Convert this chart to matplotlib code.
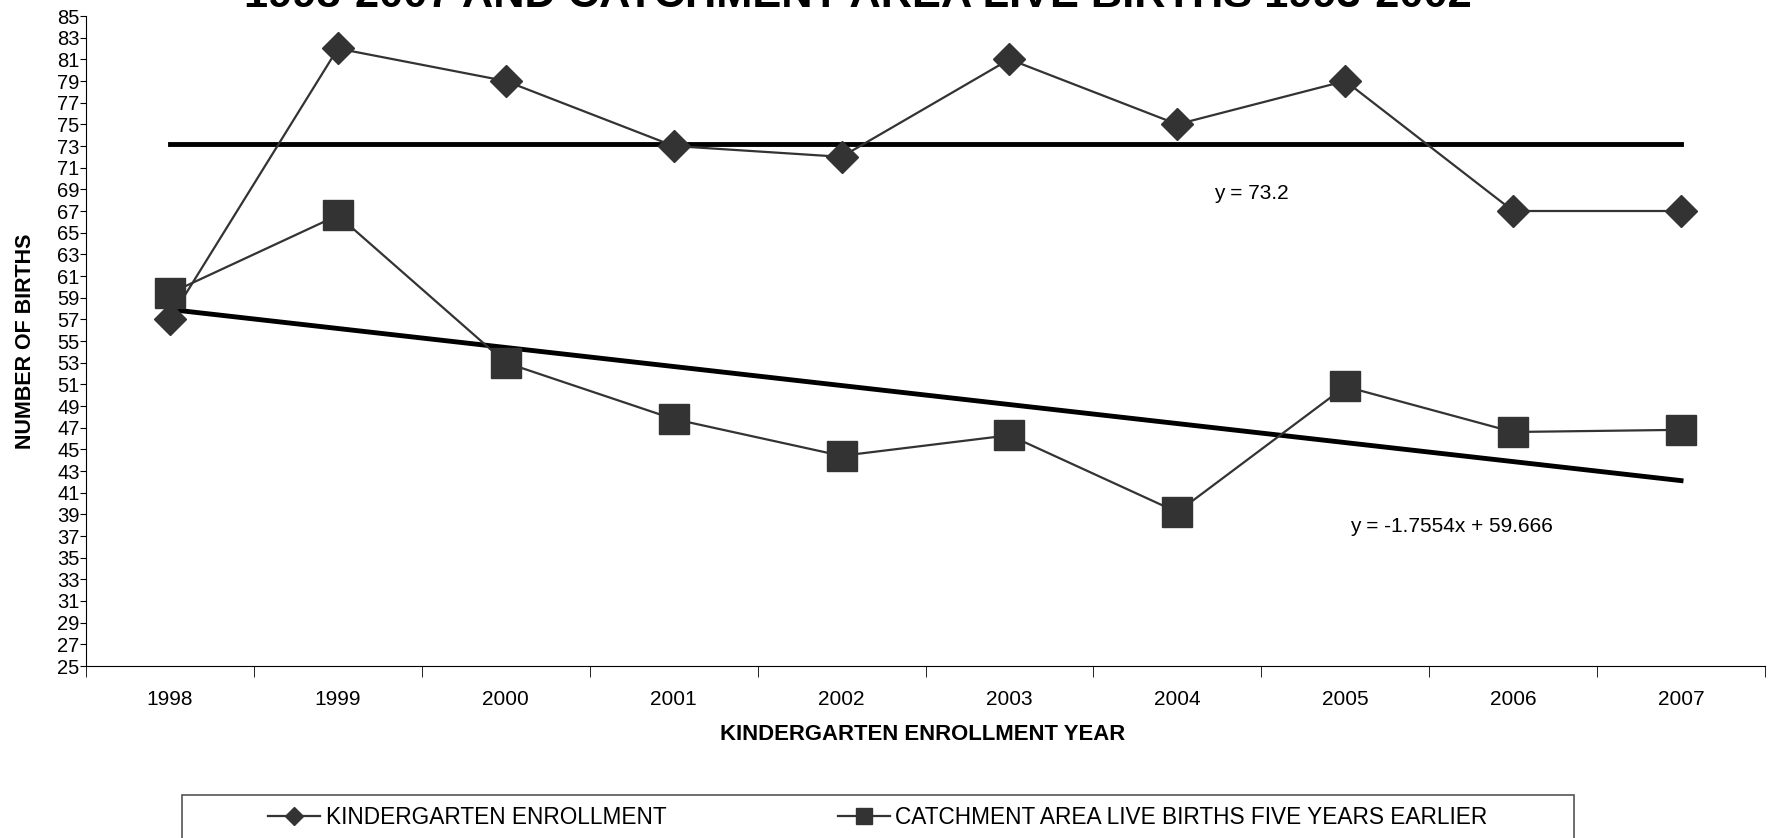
import numpy as np
import matplotlib
matplotlib.use("Agg")
import matplotlib.pyplot as plt
from matplotlib.patches import Rectangle

plt.rcParams['font.family'] = ['Liberation Sans', 'DejaVu Sans']

# Datos
anios = ['1998', '1999', '2000', '2001', '2002', '2003', '2004', '2005', '2006', '2007']
kinder = [57, 82, 79, 73, 72, 81, 75, 79, 67, 67]
nacimientos = [59.4, 66.6, 53.0, 47.8, 44.4, 46.3, 39.2, 50.8, 46.6, 46.8]

# Líneas de tendencia (valores de las ecuaciones mostradas)
media_kinder = 73.2
pendiente = -1.7554
intercepto = 59.666

x = np.arange(1, len(anios) + 1)
gris = '#333333'

fig = plt.figure(figsize=(17.79, 8.38), dpi=100)
ax = fig.add_axes([86 / 1779, 1 - 666 / 838, (1765 - 86) / 1779, 650 / 838])

ax.plot(x, kinder, color=gris, lw=1.6, marker='D', ms=16, mfc=gris, mec=gris,
        label='KINDERGARTEN ENROLLMENT', zorder=3)
ax.plot(x, nacimientos, color=gris, lw=1.6, marker='s', ms=22, mfc=gris, mec=gris,
        label='CATCHMENT AREA LIVE BIRTHS FIVE YEARS EARLIER', zorder=3)

# Tendencias
ax.plot([x[0], x[-1]], [media_kinder, media_kinder], color='black', lw=3.5, zorder=2)
ax.plot([x[0], x[-1]], [pendiente * x[0] + intercepto, pendiente * x[-1] + intercepto],
        color='black', lw=3.5, zorder=2)
ax.text(7.22, 68.6, 'y = 73.2', fontsize=15, va='center', ha='left')
ax.text(8.03, 37.9, 'y = -1.7554x + 59.666', fontsize=15, va='center', ha='left')

# Ejes
ax.set_xlim(0.5, len(anios) + 0.5)
ax.set_ylim(25, 85)
ax.set_yticks(np.arange(25, 86, 2))
ax.set_xticks(x)
ax.set_xticklabels(anios)
ax.set_xticks(np.arange(0.5, len(anios) + 1), minor=True)
ax.tick_params(axis='x', which='major', length=0, pad=17, labelsize=15)
ax.tick_params(axis='x', which='minor', length=8, color='black')
ax.tick_params(axis='y', length=4, pad=0.5, labelsize=14.5)
for s in ['top', 'right']:
    ax.spines[s].set_visible(False)
ax.spines['left'].set_color('black')
ax.spines['bottom'].set_color('black')

fig.text(923 / 1779, 1 - 734 / 838, 'KINDERGARTEN ENROLLMENT YEAR', fontsize=15.9,
         weight='bold', ha='center', va='center')
fig.text(26 / 1779, 1 - 341 / 838, 'NUMBER OF BIRTHS', fontsize=15.5, weight='bold',
         rotation=90, ha='center', va='center')

# Título (parcialmente fuera del lienzo)
fig.text(858 / 1779, 1 - 7 / 838, '1998-2007 AND CATCHMENT AREA LIVE BIRTHS 1993-2002',
         fontsize=31.2, weight='bold', ha='center', va='baseline')

# Leyenda
fig.patches.append(Rectangle((182 / 1779, -0.05), (1574 - 182) / 1779, 0.05 + 1 - 795 / 838,
                             transform=fig.transFigure, fill=False, edgecolor='#555555', lw=1.2))
h, l = ax.get_legend_handles_labels()
fig.legend(h, l, loc='center', bbox_to_anchor=(878 / 1779, 1 - 817 / 838), ncol=2,
           frameon=False, fontsize=16.3, markerscale=0.55, handlelength=2.3,
           handletextpad=0.25, columnspacing=7.55)

fig.savefig('out.png', dpi=100)
